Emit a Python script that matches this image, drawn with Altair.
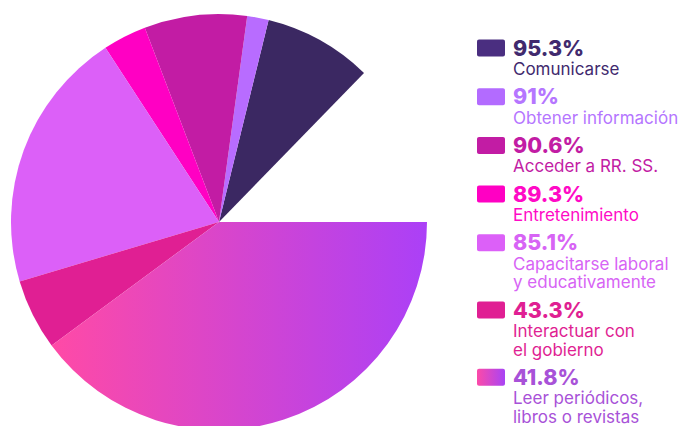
import altair as alt
import pandas as pd

# ---- data ----
categories = [
    "Comunicarse",
    "Obtener información",
    "Acceder a RR. SS.",
    "Entretenimiento",
    "Capacitarse laboral\ny educativamente",
    "Interactuar con\nel gobierno",
    "Leer periódicos,\nlibros o revistas",
]
pct_labels = ["95.3%", "91%", "90.6%", "89.3%", "85.1%", "43.3%", "41.8%"]
# slice angles (degrees, clockwise from 12 o'clock) as drawn in the reference
angle_start = [13.8, 7.8, 339.1, 326.9, 253.4, 233.6, 90.0]
angle_end = [44.2, 13.8, 367.8, 339.1, 326.9, 253.4, 233.6]

# ---- styles ----
slice_colors = ["#3b2862", "#b86cff", "#c21ca4", "#ff00c3", "#dc60f8", "#e01f93"]
swatch_colors = ["#4a2e80", "#b36bff", "#c21ca4", "#ff00c3", "#dc60f8", "#e01f93"]
text_colors = ["#412a6e", "#b576ff", "#c21ca4", "#ff0ac6", "#d764f5", "#e01f93", "#a852d8"]
FONT = "Inter"
M = 8  # page margin

# ---- layout for the custom legend ----
LINE_H = 18.5
pct_y = []
y = 55.5
for lab in categories:
    pct_y.append(y - M)
    y += 48.7 + LINE_H * lab.count("\n")

df = pd.DataFrame({
    "cat": categories,
    "pct": pct_labels,
    "a0": angle_start,
    "a1": angle_end,
    "pct_y": pct_y,
})
df["lab_y"] = df["pct_y"] + 19.5
df["sw_top"] = df["pct_y"] - 16.0
df["sw_bot"] = df["pct_y"] + 1.0

solid = categories[:6]
CX, CY, R = 219 - M, 222 - M, 208

theta_scale = alt.Scale(domain=[0, 360], range=[0, 6.283185307179586])

pie = alt.Chart(df).transform_filter(
    alt.FieldOneOfPredicate(field="cat", oneOf=solid)
).mark_arc(radius=R).encode(
    theta=alt.Theta("a0:Q", scale=theta_scale),
    theta2="a1:Q",
    x=alt.value(CX),
    y=alt.value(CY),
    color=alt.Color("cat:N", scale=alt.Scale(domain=solid, range=slice_colors), legend=None),
)

pie_grad = alt.Chart(df).transform_filter(
    alt.FieldOneOfPredicate(field="cat", oneOf=[categories[6]])
).mark_arc(
    radius=R,
    color=alt.Gradient(
        gradient="linear",
        stops=[alt.GradientStop(color="#ff4aa6", offset=0), alt.GradientStop(color="#ab40f7", offset=1)],
        x1=0, x2=1, y1=0, y2=0,
    ),
).encode(
    theta=alt.Theta("a0:Q", scale=theta_scale),
    theta2="a1:Q",
    x=alt.value(CX),
    y=alt.value(CY),
)

SX0, SX1, TX = 477 - M, 505 - M, 513 - M

swatch = alt.Chart(df).transform_filter(
    alt.FieldOneOfPredicate(field="cat", oneOf=solid)
).mark_rect(cornerRadius=2).encode(
    x=alt.value(SX0),
    x2=alt.value(SX1),
    y=alt.Y("sw_top:Q", scale=None),
    y2="sw_bot:Q",
    color=alt.Color("cat:N", scale=alt.Scale(domain=solid, range=swatch_colors), legend=None),
)

swatch_grad = alt.Chart(df).transform_filter(
    alt.FieldOneOfPredicate(field="cat", oneOf=[categories[6]])
).mark_rect(
    cornerRadius=2,
    color=alt.Gradient(
        gradient="linear",
        stops=[alt.GradientStop(color="#fc4aa8", offset=0), alt.GradientStop(color="#a844f5", offset=1)],
        x1=0, x2=1, y1=0, y2=0,
    ),
).encode(
    x=alt.value(SX0),
    x2=alt.value(SX1),
    y=alt.Y("sw_top:Q", scale=None),
    y2="sw_bot:Q",
)

pct_text = alt.Chart(df).mark_text(
    align="left", baseline="alphabetic", font=FONT, fontSize=21.5, fontWeight=800
).encode(
    x=alt.value(TX),
    y=alt.Y("pct_y:Q", scale=None),
    text="pct:N",
    color=alt.Color("cat:N", scale=alt.Scale(domain=categories, range=text_colors), legend=None),
)

lab_text = alt.Chart(df).mark_text(
    align="left", baseline="alphabetic", font=FONT, fontSize=17, lineBreak="\n", lineHeight=LINE_H
).encode(
    x=alt.value(TX),
    y=alt.Y("lab_y:Q", scale=None),
    text="cat:N",
    color=alt.Color("cat:N", scale=alt.Scale(domain=categories, range=text_colors), legend=None),
)

chart = alt.layer(pie, pie_grad, swatch, swatch_grad, pct_text, lab_text).resolve_scale(
    color="independent"
).properties(
    width=680, height=418, padding=0, autosize="none"
).configure_view(stroke=None)

chart.save("out.html", embed_options={"renderer": "svg", "actions": False})
